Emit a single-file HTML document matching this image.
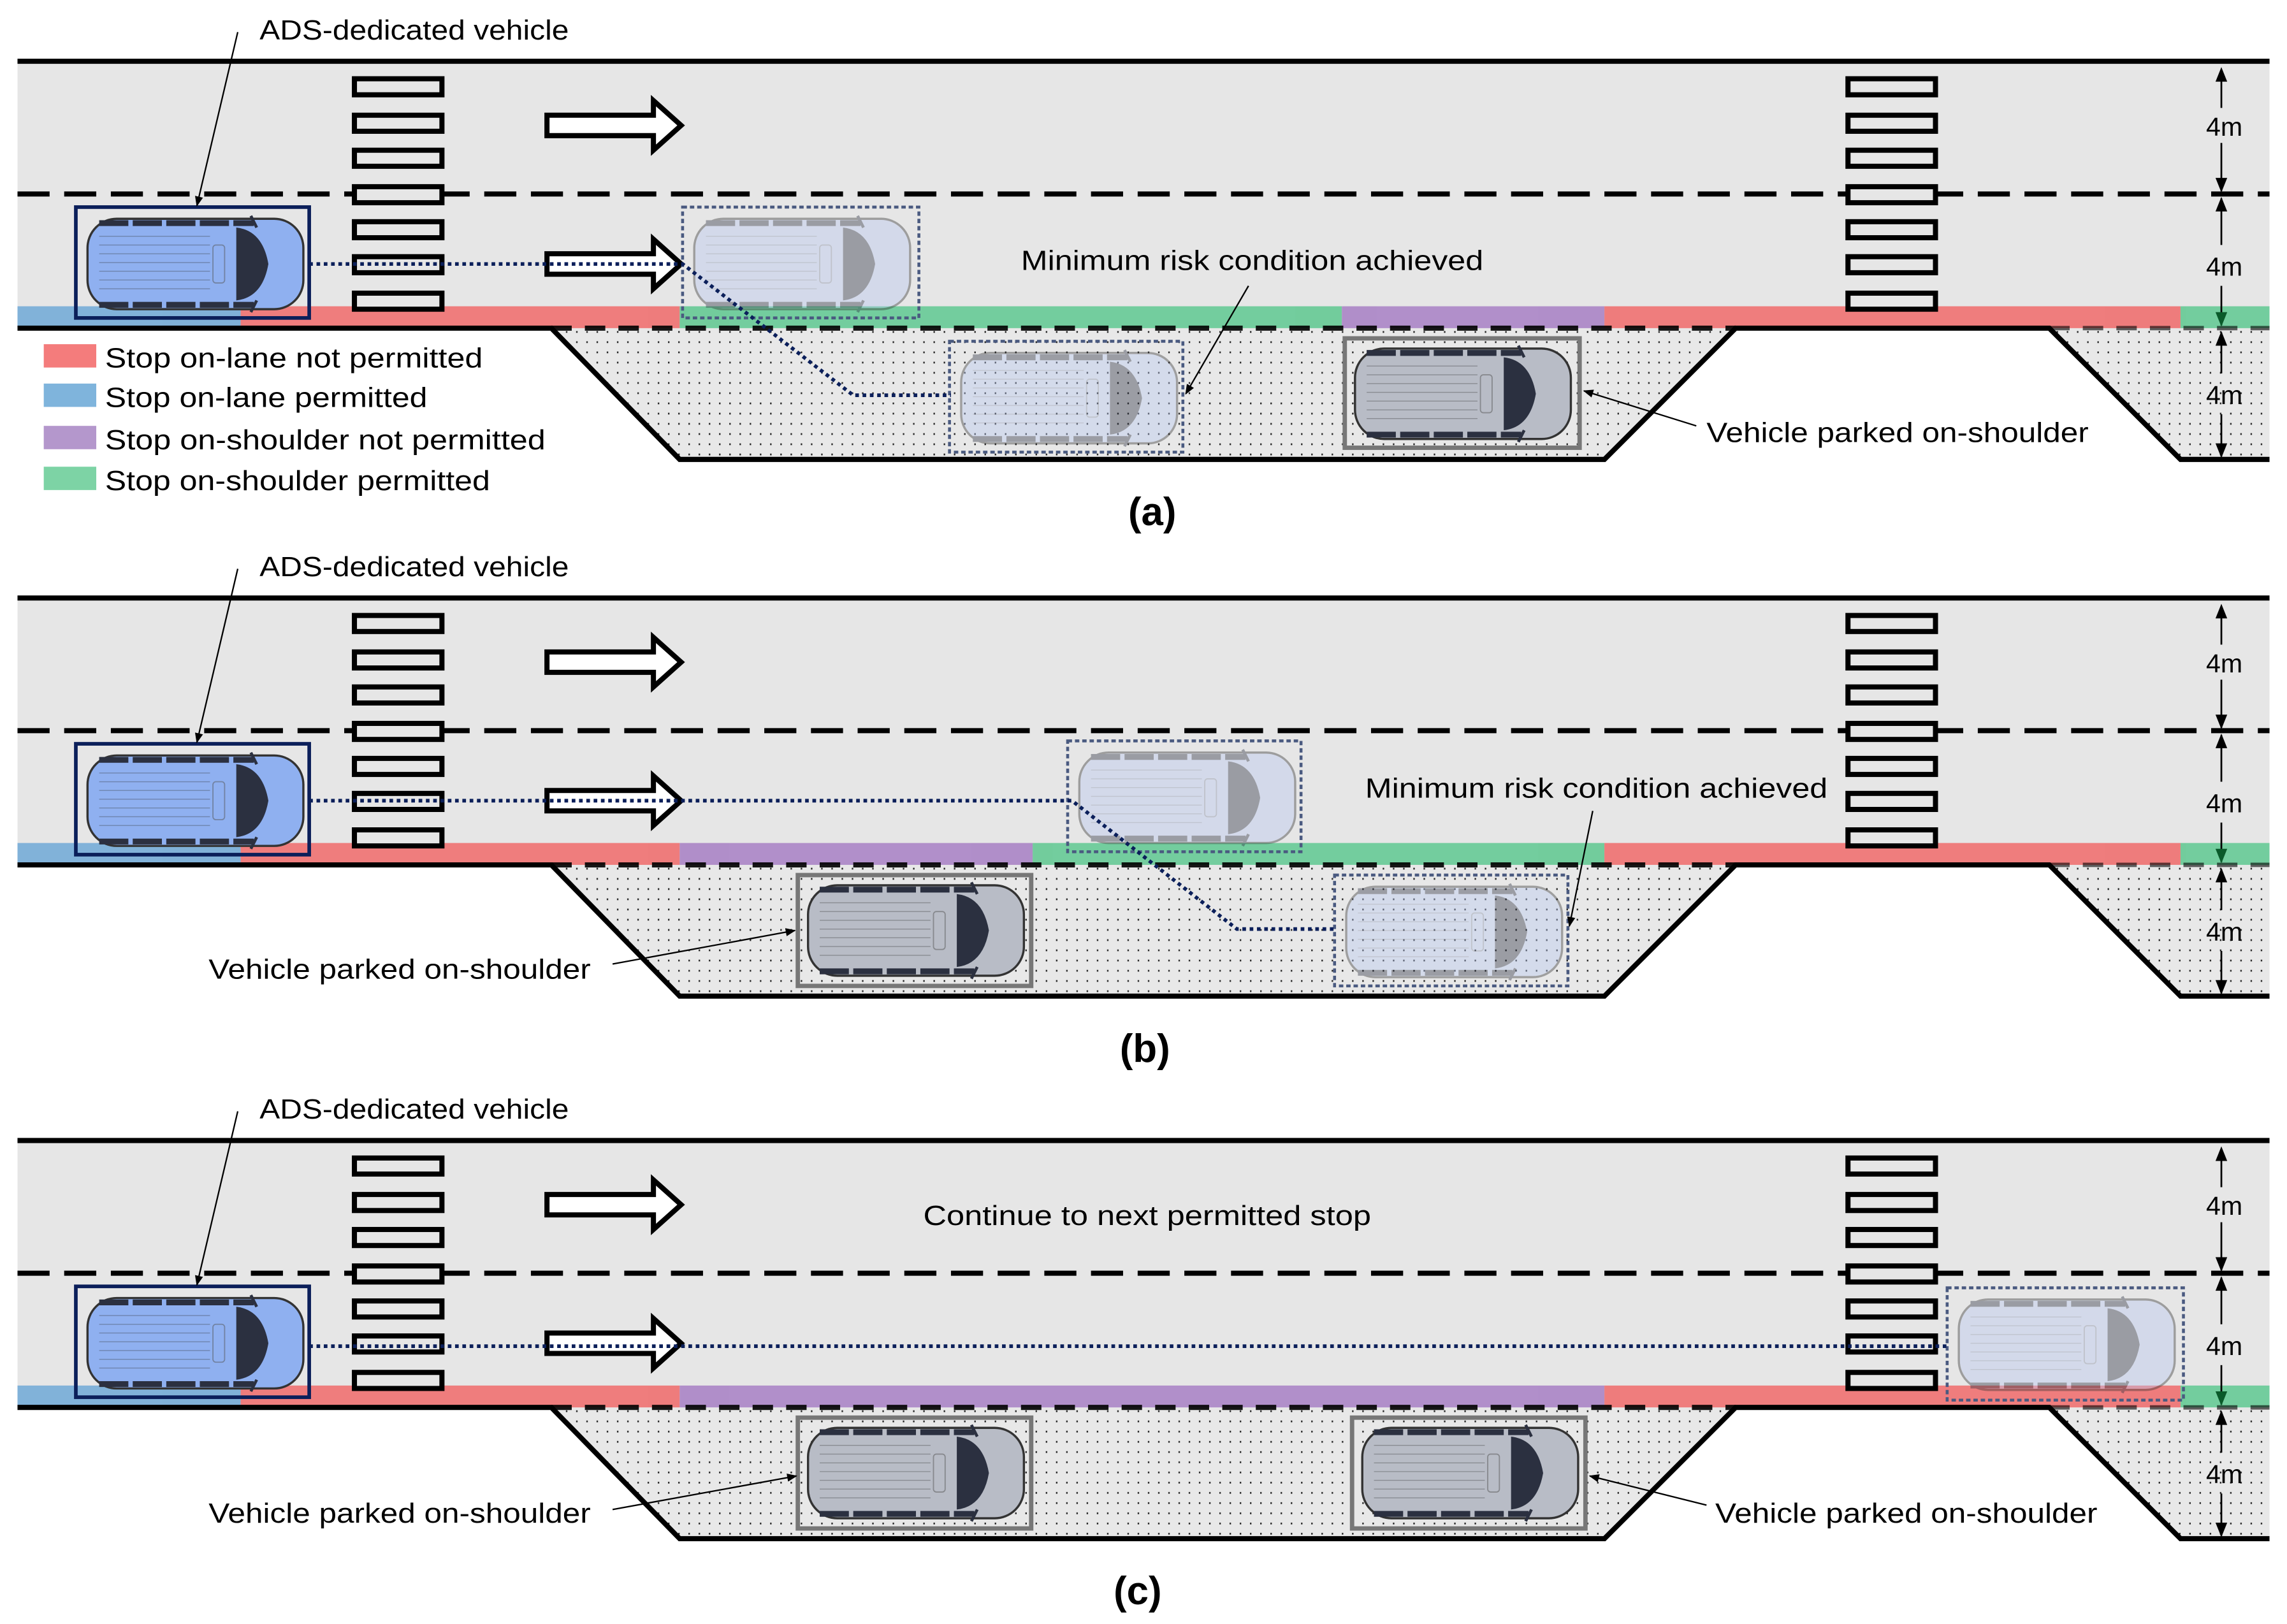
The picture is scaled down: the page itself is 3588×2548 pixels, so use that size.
<!DOCTYPE html>
<html><head><meta charset="utf-8"><style>html,body{margin:0;padding:0;background:#fff}svg{display:block}</style></head>
<body>
<svg width="3588" height="2548" viewBox="0 0 1568 1113.5" preserveAspectRatio="none" xmlns="http://www.w3.org/2000/svg" font-family="Liberation Sans, sans-serif">
<defs>
<pattern id="dots" width="7" height="7" patternUnits="userSpaceOnUse"><rect width="7" height="7" fill="#e8e8e8"/><rect x="3" y="3" width="1" height="1.2" fill="#222"/></pattern>
<marker id="ah" viewBox="0 0 10 10" refX="9" refY="5" markerWidth="7" markerHeight="7" orient="auto"><path d="M0,1 L10,5 L0,9 z" fill="#000"/></marker>
<g id="car">
 <rect x="6" y="4" width="148" height="62" rx="20" fill="currentColor" stroke="#333" stroke-width="1.5"/>
 <g stroke="#333" stroke-width="0.6" opacity="0.35"><line x1="14" y1="16" x2="90" y2="16"/><line x1="14" y1="22" x2="90" y2="22"/><line x1="14" y1="28" x2="90" y2="28"/><line x1="14" y1="34" x2="90" y2="34"/><line x1="14" y1="40" x2="90" y2="40"/><line x1="14" y1="46" x2="90" y2="46"/><line x1="14" y1="52" x2="90" y2="52"/></g>
 <rect x="92" y="22" width="8" height="26" rx="2" fill="none" stroke="#555" stroke-width="0.8" opacity="0.5"/>
 <path d="M108,10 Q126,12 130,35 Q126,58 108,60 Z" fill="#2b3040"/>
 <path d="M14,7 H120 M14,63 H120" stroke="#2b3040" stroke-width="4" stroke-dasharray="20,3"/>
 <path d="M118,2 L122,10 M118,68 L122,60" stroke="#2b3040" stroke-width="2"/>
</g>
<g id="base">
 <rect x="12" y="42" width="1544" height="183" fill="#e6e6e6"/>
 <polygon points="378,225 466,315 1100,315 1190,225" fill="url(#dots)"/>
 <polygon points="1405,225 1495,315 1556,315 1556,225" fill="url(#dots)"/>
</g>
<g id="lines">
 <line x1="12" y1="42" x2="1556" y2="42" stroke="#000" stroke-width="3.5"/>
 <line x1="12" y1="133" x2="1556" y2="133" stroke="#000" stroke-width="3.5" stroke-dasharray="22,10"/>
 <path d="M12,225 H378 L466,315 H1100 L1190,225 H1405 L1495,315 H1556" fill="none" stroke="#000" stroke-width="3.5"/>
 <line x1="378" y1="225" x2="1190" y2="225" stroke="#000" stroke-width="3.5" stroke-dasharray="14,9" opacity="0.9"/>
 <line x1="1405" y1="225" x2="1556" y2="225" stroke="#000" stroke-width="3" stroke-dasharray="14,9" opacity="0.6"/>
 <g fill="#e6e6e6" stroke="#000" stroke-width="3.5">
  <rect x="243" y="54" width="60" height="11"/><rect x="243" y="79" width="60" height="11"/><rect x="243" y="103" width="60" height="11"/><rect x="243" y="128" width="60" height="11"/><rect x="243" y="152" width="60" height="11"/><rect x="243" y="176" width="60" height="11"/><rect x="243" y="201" width="60" height="11"/>
  <rect x="1267" y="54" width="60" height="11"/><rect x="1267" y="79" width="60" height="11"/><rect x="1267" y="103" width="60" height="11"/><rect x="1267" y="128" width="60" height="11"/><rect x="1267" y="152" width="60" height="11"/><rect x="1267" y="176" width="60" height="11"/><rect x="1267" y="201" width="60" height="11"/>
 </g>
 <g fill="#fff" stroke="#000" stroke-width="3.5">
  <polygon points="375,79 448,79 448,69 467,86 448,103 448,93 375,93"/>
 </g>
 <g stroke="#000" stroke-width="1.2">
  <line x1="1523" y1="48" x2="1523" y2="74"/><line x1="1523" y1="98" x2="1523" y2="131"/>
  <line x1="1523" y1="136" x2="1523" y2="168"/><line x1="1523" y1="196" x2="1523" y2="223"/>
  <line x1="1523" y1="228" x2="1523" y2="256"/><line x1="1523" y1="284" x2="1523" y2="313"/>
 </g>
 <g fill="#000">
  <path d="M1523,46 l-4,10 h8z"/><path d="M1523,132 l-4,-10 h8z"/><path d="M1523,135 l-4,10 h8z"/><path d="M1523,224 l-4,-10 h8z" fill="#0a5a2a"/><path d="M1523,227 l-4,10 h8z"/><path d="M1523,314 l-4,-10 h8z"/>
 </g>
 <g font-size="18" text-anchor="middle" fill="#000"><text x="1525" y="93">4m</text><text x="1525" y="189">4m</text><text x="1525" y="277">4m</text></g>
</g>
<g id="ads">
 <use href="#car" x="54" y="146" color="#8fb0f0"/>
 <rect x="52" y="142" width="160" height="76" fill="none" stroke="#0b1f5a" stroke-width="2.5"/>
 <line x1="163" y1="22" x2="135" y2="141" stroke="#000" stroke-width="1" marker-end="url(#ah)"/>
 <text x="178" y="27" font-size="19" textLength="212" lengthAdjust="spacingAndGlyphs">ADS-dedicated vehicle</text>
 <polygon points="375,174 448,174 448,164 467,181 448,198 448,188 375,188" fill="#fff" stroke="#000" stroke-width="3.5"/>
</g>
</defs>

<!-- Panel A -->
<use href="#base"/>
<g opacity="0.85">
<rect x="12" y="210" width="153" height="15" fill="#6fa8d6"/><rect x="165" y="210" width="301" height="15" fill="#f06a6a"/><rect x="466" y="210" width="454" height="15" fill="#5ec890"/><rect x="920" y="210" width="180" height="15" fill="#a77fc4"/><rect x="1100" y="210" width="395" height="15" fill="#f06a6a"/><rect x="1495" y="210" width="61" height="15" fill="#5ec890"/>
</g>
<use href="#lines"/>
<use href="#ads"/>
<g opacity="0.4"><use href="#car" x="470" y="146" color="#b8c8f0"/><use href="#car" x="653" y="238" color="#b8c8f0"/></g>
<rect x="468" y="142" width="162" height="76" fill="none" stroke="#4a5a80" stroke-width="2" stroke-dasharray="3,2"/>
<rect x="651" y="234" width="160" height="76" fill="none" stroke="#4a5a80" stroke-width="2" stroke-dasharray="3,2"/>
<use href="#car" x="923" y="235" color="#b8bcc6"/>
<rect x="922" y="232" width="161" height="75" fill="none" stroke="#777" stroke-width="3"/>
<path d="M212,181 H468 L585,271 H652" fill="none" stroke="#0b1f5a" stroke-width="2.5" stroke-dasharray="2.5,2.5"/>
<text x="700" y="185" font-size="19" textLength="317" lengthAdjust="spacingAndGlyphs">Minimum risk condition achieved</text>
<line x1="856" y1="196" x2="813" y2="270" stroke="#000" stroke-width="1" marker-end="url(#ah)"/>
<text x="1170" y="303" font-size="19" textLength="262" lengthAdjust="spacingAndGlyphs">Vehicle parked on-shoulder</text>
<line x1="1163" y1="292" x2="1086" y2="268" stroke="#000" stroke-width="1" marker-end="url(#ah)"/>
<g font-size="19"><rect x="30" y="236" width="36" height="16" fill="#f47c7c"/><text x="72" y="252" textLength="259" lengthAdjust="spacingAndGlyphs">Stop on-lane not permitted</text>
<rect x="30" y="263" width="36" height="16" fill="#7fb4dc"/><text x="72" y="279" textLength="221" lengthAdjust="spacingAndGlyphs">Stop on-lane permitted</text>
<rect x="30" y="292" width="36" height="16" fill="#b497cc"/><text x="72" y="308" textLength="302" lengthAdjust="spacingAndGlyphs">Stop on-shoulder not permitted</text>
<rect x="30" y="320" width="36" height="16" fill="#7dd3a5"/><text x="72" y="336" textLength="264" lengthAdjust="spacingAndGlyphs">Stop on-shoulder permitted</text></g>
<text x="790" y="360" font-size="27" font-weight="bold" text-anchor="middle">(a)</text>

<!-- Panel B -->
<g transform="translate(0,368)">
<use href="#base"/>
<g opacity="0.85">
<rect x="12" y="210" width="153" height="15" fill="#6fa8d6"/><rect x="165" y="210" width="301" height="15" fill="#f06a6a"/><rect x="466" y="210" width="242" height="15" fill="#a77fc4"/><rect x="708" y="210" width="392" height="15" fill="#5ec890"/><rect x="1100" y="210" width="395" height="15" fill="#f06a6a"/><rect x="1495" y="210" width="61" height="15" fill="#5ec890"/>
</g>
<use href="#lines"/>
<use href="#ads"/>
<use href="#car" x="548" y="235" color="#b8bcc6"/>
<rect x="547" y="232" width="160" height="76" fill="none" stroke="#777" stroke-width="3"/>
<g opacity="0.4"><use href="#car" x="734" y="144" color="#b8c8f0"/><use href="#car" x="917" y="236" color="#b8c8f0"/></g>
<rect x="732" y="140" width="160" height="76" fill="none" stroke="#4a5a80" stroke-width="2" stroke-dasharray="3,2"/>
<rect x="915" y="232" width="160" height="76" fill="none" stroke="#4a5a80" stroke-width="2" stroke-dasharray="3,2"/>
<path d="M212,181 H735 L848,269 H916" fill="none" stroke="#0b1f5a" stroke-width="2.5" stroke-dasharray="2.5,2.5"/>
<text x="936" y="179" font-size="19" textLength="317" lengthAdjust="spacingAndGlyphs">Minimum risk condition achieved</text>
<line x1="1092" y1="188" x2="1076" y2="267" stroke="#000" stroke-width="1" marker-end="url(#ah)"/>
<text x="143" y="303" font-size="19" textLength="262" lengthAdjust="spacingAndGlyphs">Vehicle parked on-shoulder</text>
<line x1="420" y1="293" x2="545" y2="270" stroke="#000" stroke-width="1" marker-end="url(#ah)"/>
<text x="785" y="360" font-size="27" font-weight="bold" text-anchor="middle">(b)</text>
</g>

<!-- Panel C -->
<g transform="translate(0,740)">
<use href="#base"/>
<g opacity="0.85">
<rect x="12" y="210" width="153" height="15" fill="#6fa8d6"/><rect x="165" y="210" width="301" height="15" fill="#f06a6a"/><rect x="466" y="210" width="634" height="15" fill="#a77fc4"/><rect x="1100" y="210" width="395" height="15" fill="#f06a6a"/><rect x="1495" y="210" width="61" height="15" fill="#5ec890"/>
</g>
<use href="#lines"/>
<use href="#ads"/>
<use href="#car" x="548" y="235" color="#b8bcc6"/>
<rect x="547" y="232" width="160" height="76" fill="none" stroke="#777" stroke-width="3"/>
<use href="#car" x="928" y="235" color="#b8bcc6"/>
<rect x="927" y="232" width="160" height="76" fill="none" stroke="#777" stroke-width="3"/>
<g opacity="0.4"><use href="#car" x="1337" y="147" color="#b8c8f0"/></g>
<rect x="1335" y="143" width="162" height="77" fill="none" stroke="#4a5a80" stroke-width="2" stroke-dasharray="3,2"/>
<path d="M212,183 H1335" fill="none" stroke="#0b1f5a" stroke-width="2.5" stroke-dasharray="2.5,2.5"/>
<text x="633" y="100" font-size="19" textLength="307" lengthAdjust="spacingAndGlyphs">Continue to next permitted stop</text>
<text x="143" y="304" font-size="19" textLength="262" lengthAdjust="spacingAndGlyphs">Vehicle parked on-shoulder</text>
<line x1="420" y1="295" x2="546" y2="272" stroke="#000" stroke-width="1" marker-end="url(#ah)"/>
<text x="1176" y="304" font-size="19" textLength="262" lengthAdjust="spacingAndGlyphs">Vehicle parked on-shoulder</text>
<line x1="1170" y1="292" x2="1090" y2="272" stroke="#000" stroke-width="1" marker-end="url(#ah)"/>
<text x="780" y="360" font-size="27" font-weight="bold" text-anchor="middle">(c)</text>
</g>
</svg>
</body></html>
